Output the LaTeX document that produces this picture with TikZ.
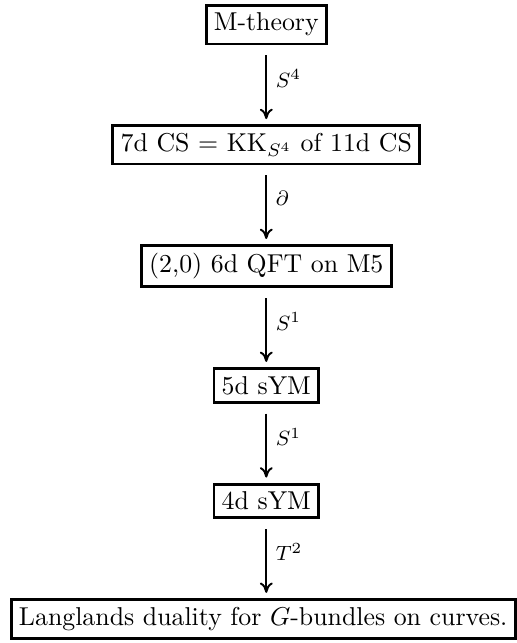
\documentclass[tikz,border=0pt]{standalone}
\usepackage{amsmath, amssymb}
\usetikzlibrary{arrows.meta, positioning, calc}

\tikzset{
	theory/.style={draw, line width=1.1pt, inner sep=3pt},
	reduce/.style={-{To[length=4pt,width=5pt]}, line width=0.75pt, shorten <=3.8pt, shorten >=2pt},
	redlabel/.style={right, font=\footnotesize, pos=0.42}
}

\begin{document}
\begin{tikzpicture}[node distance=30.5pt]
	% chain of theories, top to bottom
	\node[theory] (mth) {M-theory};
	\node[theory, below=of mth] (cs7) {7d CS $=$ KK$_{S^4}$ of 11d CS};
	\node[theory, below=of cs7] (qft6) {(2,0) 6d QFT on M5};
	\node[theory, below=of qft6] (sym5) {5d sYM};
	\node[theory, below=of sym5] (sym4) {4d sYM};
	\node[theory, below=of sym4, xshift=-1.2pt] (lang) {Langlands duality for $G$-bundles on curves.};
	
	\draw[reduce] (mth) -- node[redlabel] {$S^4$} (cs7);
	\draw[reduce] (cs7) -- node[redlabel] {$\partial$} (qft6);
	\draw[reduce] (qft6) -- node[redlabel] {$S^1$} (sym5);
	\draw[reduce] (sym5) -- node[redlabel] {$S^1$} (sym4);
	\draw[reduce] (sym4) -- node[redlabel] {$T^2$} (sym4 |- lang.north);
	
	\useasboundingbox ($(lang.south west)+(-3.8pt,-1.2pt)$) rectangle ($(lang.east |- mth.north)+(0,1.5pt)$);
\end{tikzpicture}
\end{document}
